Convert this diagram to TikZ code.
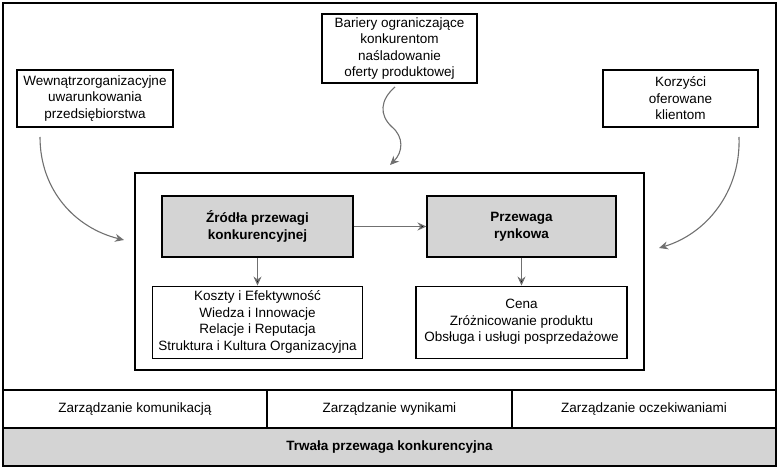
\documentclass[tikz,border=0pt]{standalone}
\usepackage{fontspec}
\setmainfont{Liberation Sans}
\usetikzlibrary{arrows.meta,positioning}
\definecolor{jasnoszary}{RGB}{212,212,212}
\definecolor{ciemnoszary}{RGB}{112,112,112}

\begin{document}
\begin{tikzpicture}[x=1pt,y=-1pt,>={Stealth[length=9pt,width=8pt]},line width=1.1pt,
    box/.style={draw,align=center,inner sep=0pt,font=\fontsize{13.5}{16.5}\selectfont},
    szary/.style={box,fill=jasnoszary,font=\fontsize{13.5}{17}\selectfont\bfseries},
    strzalka/.style={->,draw=ciemnoszary,line width=1.1pt}]

  \useasboundingbox (0,0) rectangle (780,470);

  % rama i pasy u dolu
  \node[box,minimum width=773,minimum height=387] (otoczenie) at (389.5,196.5) {};
  \node[box,minimum width=264,minimum height=38] (kom) at (135,409) {Zarządzanie komunikacją};
  \node[box,minimum width=245,minimum height=38] (wyn) at (389.5,409) {Zarządzanie wynikami};
  \node[box,minimum width=264,minimum height=38] (ocz) at (644,409) {Zarządzanie oczekiwaniami};
  \node[szary,minimum width=773,minimum height=38] (trwala) at (389.5,447) {Trwała przewaga konkurencyjna};

  % czynniki zewnetrzne
  \node[box,minimum width=156,minimum height=57] (wew) at (95,98.5) {Wewnątrzorganizacyjne\\uwarunkowania\\przedsiębiorstwa};
  \node[box,minimum width=155,minimum height=69] (bar) at (399.5,48.5) {Bariery ograniczające\\konkurentom\\naśladowanie\\oferty produktowej};
  \node[box,minimum width=155,minimum height=57] (kor) at (680.5,98.5) {Korzyści\\oferowane\\klientom};

  % obszar srodkowy
  \node[box,minimum width=509,minimum height=197] (obszar) at (389.5,271.5) {};
  \node[szary,minimum width=191,minimum height=61] (zrodla) at (257.5,226.5) {Źródła przewagi\\konkurencyjnej};
  \node[szary,minimum width=189,minimum height=61] (przewaga) at (521.5,226.5) {Przewaga\\rynkowa};
  \node[box,minimum width=210,minimum height=72] (koszty) [below=28pt of zrodla] {Koszty i Efektywność\\Wiedza i Innowacje\\Relacje i Reputacja\\Struktura i Kultura Organizacyjna};
  \node[box,minimum width=211,minimum height=72] (cena) [below=28pt of przewaga] {Cena\\Zróżnicowanie produktu\\Obsługa i usługi posprzedażowe};

  \coordinate (wew-out) at (40,137);
  \coordinate (wew-in) at (124,240);
  \coordinate (bar-out) at (395,87);
  \coordinate (bar-in) at (390,165);
  \coordinate (kor-out) at (739,137);
  \coordinate (kor-in) at (659,248);

  \path[strzalka] (zrodla) edge (przewaga)
    (zrodla) edge (koszty)
    (przewaga) edge (cena);

  \draw[strzalka] (wew-out) .. controls (40,190) and (75,228) .. (wew-in);
  \draw[strzalka] (bar-out) .. controls (380,100) and (379,115) .. (392,127)
    .. controls (404,137) and (403,152) .. (bar-in);
  \draw[strzalka] (kor-out) .. controls (741,192) and (706,234) .. (kor-in);

\end{tikzpicture}
\end{document}
